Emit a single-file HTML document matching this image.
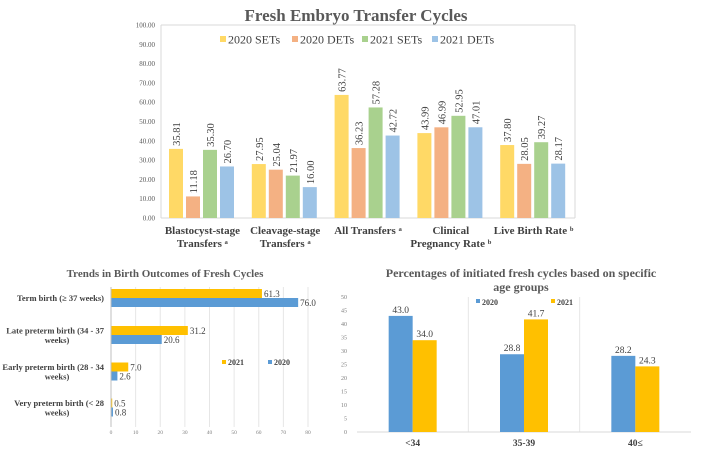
<!DOCTYPE html>
<html><head><meta charset="utf-8">
<style>
html,body{margin:0;padding:0;background:#fff;}
svg{display:block;font-family:"Liberation Serif",serif;}
</style></head>
<body>
<svg id="c" width="703" height="453" viewBox="0 0 703 453"></svg>
<script>
// ---- Chart 1 data ----
const c1Categories = [["Blastocyst-stage","Transfers ᵃ"],["Cleavage-stage","Transfers ᵃ"],["All Transfers ᵃ"],["Clinical","Pregnancy Rate ᵇ"],["Live Birth Rate ᵇ"]];
const c1SeriesNames = ["2020 SETs","2020 DETs","2021 SETs","2021 DETs"];
const c1Set2020 = [35.81,27.95,63.77,43.99,37.80];
const c1Det2020 = [11.18,25.04,36.23,46.99,28.05];
const c1Set2021 = [35.30,21.97,57.28,52.95,39.27];
const c1Det2021 = [26.70,16.00,42.72,47.01,28.17];
const c1Ticks = [0,10,20,30,40,50,60,70,80,90,100];
// ---- Chart 2 data ----
const c2Categories = [["Term birth (≥ 37 weeks)"],["Late preterm birth (34 - 37","weeks)"],["Early preterm birth (28 - 34","weeks)"],["Very preterm birth (< 28","weeks)"]];
const c2Values2021 = [61.3,31.2,7.0,0.5];
const c2Values2020 = [76.0,20.6,2.6,0.8];
const c2Ticks = [0,10,20,30,40,50,60,70,80];
// ---- Chart 3 data ----
const c3Categories = ["<34","35-39","40≤"];
const c3Values2020 = [43.0,28.8,28.2];
const c3Values2021 = [34.0,41.7,24.3];
const c3Ticks = [0,5,10,15,20,25,30,35,40,45,50];

const NS="http://www.w3.org/2000/svg";
const svg=document.getElementById('c');
function mk(tag,attrs,parent){const e=document.createElementNS(NS,tag);for(const k in attrs)e.setAttribute(k,attrs[k]);(parent||svg).appendChild(e);return e;}
function txt(s,attrs,parent){const e=mk('text',attrs,parent);e.textContent=s;return e;}

// ===== Chart 1 =====
const g1=mk('g',{});


const x1L=161,x1R=575,y1B=218,y1T=25;
const y1=v=>y1B-(v/100)*(y1B-y1T);
const cw1=(x1R-x1L)/c1Categories.length;
const t1=txt("Fresh Embryo Transfer Cycles",{x:356,y:21,'text-anchor':'middle','font-size':17,'font-weight':'bold',fill:'#595959'},g1);


const ax1=mk('line',{x1:x1L,y1:y1T,x2:x1L,y2:y1B,stroke:'#d9d9d9'},g1);


mk('line',{x1:x1L,y1:y1T,x2:x1R,y2:y1T,stroke:'#d9d9d9'},g1);
mk('line',{x1:x1R,y1:y1T,x2:x1R,y2:y1B,stroke:'#d9d9d9'},g1);
const bx1=mk('line',{x1:x1L,y1:y1B,x2:x1R,y2:y1B,stroke:'#d9d9d9'},g1);


c1Ticks.forEach(t=>{
  const e=txt(t.toFixed(2),{x:155,y:y1(t)+2.5,'text-anchor':'end','font-size':7,fill:'#595959'},g1);
  
  
});
const c1Colors=['#ffd966','#f4b183','#a9d18e','#9dc3e6'];
const c1Series=[c1Set2020,c1Det2020,c1Set2021,c1Det2021];
const legX=[220,292,362,432];
c1SeriesNames.forEach((n,i)=>{
  const r=mk('rect',{x:legX[i],y:36,width:6,height:6,fill:c1Colors[i]},g1);
  
  
  const e=txt(n,{x:legX[i]+8,y:43.5,'font-size':12,fill:'#404040'},g1);
  
  
});
const bw1=14,gap1=3;
c1Categories.forEach((cat,ci)=>{
  const start=x1L+ci*cw1+8;
  c1Series.forEach((s,si)=>{
    const v=s[ci];const x=start+si*(bw1+gap1);
    const r=mk('rect',{x:x,y:y1(v),width:bw1,height:y1B-y1(v),fill:c1Colors[si]},g1);
    
    
    const lx=x+bw1/2+4,ly=y1(v)-3;
    const e=txt(v.toFixed(2),{x:lx,y:ly,'font-size':10.5,fill:'#404040',transform:`rotate(-90 ${lx} ${ly})`},g1);
    
    
  });
  const cx=x1L+ci*cw1+cw1/2;
  cat.forEach((line,li)=>{
    const e=txt(line,{x:cx,y:234+li*13,'text-anchor':'middle','font-size':11,'font-weight':'bold',fill:'#404040'},g1);
    
    
  });
});

// ===== Chart 2 =====
const g2=mk('g',{});


const x2L=111,x2R=308,y2T=287,y2B=427;
const x2=v=>x2L+(v/80)*(x2R-x2L);
const t2=txt("Trends in Birth Outcomes of Fresh Cycles",{x:165,y:277,'text-anchor':'middle','font-size':11,'font-weight':'bold',fill:'#595959'},g2);


c2Ticks.forEach(t=>{
  mk('line',{x1:x2(t),y1:y2T,x2:x2(t),y2:y2B,stroke:'#e6e6e6'},g2);
  const e=txt(String(t),{x:x2(t),y:434,'text-anchor':'middle','font-size':5.5,fill:'#7f7f7f'},g2);
  
  
});
const gy2=[298,335,371.5,407.5];
c2Categories.forEach((cat,ci)=>{
  const cy=gy2[ci];
  const v1=c2Values2021[ci],v2=c2Values2020[ci];
  const r1=mk('rect',{x:x2L,y:cy-9,width:x2(v1)-x2L,height:9,fill:'#ffc000'},g2);
  
  
  const r2=mk('rect',{x:x2L,y:cy,width:x2(v2)-x2L,height:9,fill:'#5b9bd5'},g2);
  
  
  const e1=txt(v1.toFixed(1),{x:x2(v1)+2,y:cy-1,'font-size':9,fill:'#404040'},g2);
  
  
  const e2=txt(v2.toFixed(1),{x:x2(v2)+2,y:cy+8,'font-size':9,fill:'#404040'},g2);
  
  
  const n=cat.length;
  cat.forEach((line,li)=>{
    const e=txt(line,{x:li>0?57:104,y:cy+3-(n-1)*4.5+li*9.5,'text-anchor':li>0?'middle':'end','font-size':8.5,'font-weight':'bold',fill:'#404040'},g2);
    
    
  });
});
mk('line',{x1:x2L,y1:y2T,x2:x2L,y2:y2B,stroke:'#bfbfbf'},g2);
[['2021','#ffc000',222],['2020','#5b9bd5',268]].forEach(l=>{
  const r=mk('rect',{x:l[2],y:360,width:4,height:4,fill:l[1]},g2);
  
  
  const e=txt(l[0],{x:l[2]+6,y:365,'font-size':8,'font-weight':'bold',fill:'#404040'},g2);
  
  
});

// ===== Chart 3 =====
const g3=mk('g',{});


const x3L=357,x3R=691,y3B=432,y3T=297;
const y3=v=>y3B-(v/50)*(y3B-y3T);
const cw3=(x3R-x3L)/c3Categories.length;
["Percentages of initiated fresh cycles based on specific","age groups"].forEach((s,i)=>{
  const e=txt(s,{x:521,y:277+i*14,'text-anchor':'middle','font-size':12,'font-weight':'bold',fill:'#595959'},g3);
  
  
});
c3Ticks.forEach(t=>{
  const e=txt(String(t),{x:347,y:y3(t)+2,'text-anchor':'end','font-size':6,fill:'#7f7f7f'},g3);
  
  
});
for(let i=1;i<c3Categories.length;i++) mk('line',{x1:x3L+i*cw3,y1:y3T,x2:x3L+i*cw3,y2:y3B,stroke:'#e6e6e6'},g3);
const bx3=mk('line',{x1:x3L,y1:y3B,x2:x3R,y2:y3B,stroke:'#d9d9d9'},g3);


const bw3=24;
c3Categories.forEach((cat,ci)=>{
  const cx=x3L+ci*cw3+cw3/2;
  [[c3Values2020[ci],'#5b9bd5',cx-bw3],[c3Values2021[ci],'#ffc000',cx]].forEach((b,bi)=>{
    const r=mk('rect',{x:b[2],y:y3(b[0]),width:bw3,height:y3B-y3(b[0]),fill:b[1]},g3);
    
    
    const e=txt(b[0].toFixed(1),{x:b[2]+bw3/2,y:y3(b[0])-3,'text-anchor':'middle','font-size':9.5,fill:'#404040'},g3);
    
    
  });
  const e=txt(cat,{x:cx,y:446,'text-anchor':'middle','font-size':9.5,'font-weight':'bold',fill:'#404040'},g3);
  
  
});
[['2020','#5b9bd5',476],['2021','#ffc000',551]].forEach(l=>{
  const r=mk('rect',{x:l[2],y:299,width:4,height:4,fill:l[1]},g3);
  
  
  const e=txt(l[0],{x:l[2]+6,y:305,'font-size':8,'font-weight':'bold',fill:'#404040'},g3);
  
  
});
</script>
</body></html>
